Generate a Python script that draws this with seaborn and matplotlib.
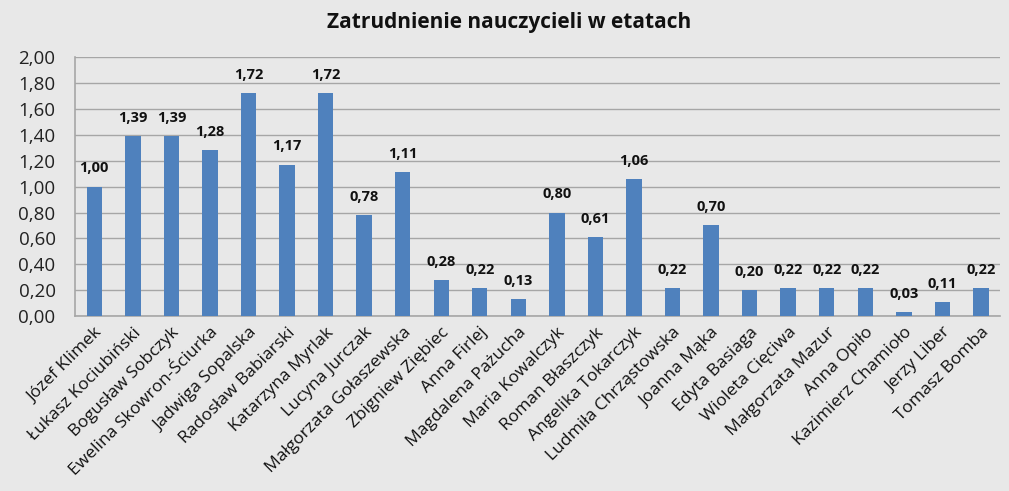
import matplotlib
matplotlib.use("Agg")
import matplotlib.pyplot as plt
import pandas as pd
import seaborn as sns

names = [
    "Józef Klimek", "Łukasz Kociubiński", "Bogusław Sobczyk",
    "Ewelina Skowron-Ściurka", "Jadwiga Sopalska", "Radosław Babiarski",
    "Katarzyna Myrlak", "Lucyna Jurczak", "Małgorzata Gołaszewska",
    "Zbigniew Ziębiec", "Anna Firlej", "Magdalena Pażucha",
    "Maria Kowalczyk", "Roman Błaszczyk", "Angelika Tokarczyk",
    "Ludmiła Chrząstowska", "Joanna Mąka", "Edyta Basiaga",
    "Wioleta Cięciwa", "Małgorzata Mazur", "Anna Opiło",
    "Kazimierz Chamioło", "Jerzy Liber", "Tomasz Bomba",
]
etaty = [
    1.00, 1.39, 1.39, 1.28, 1.72, 1.17, 1.72, 0.78, 1.11, 0.28, 0.22, 0.13,
    0.80, 0.61, 1.06, 0.22, 0.70, 0.20, 0.22, 0.22, 0.22, 0.03, 0.11, 0.22,
]
y_ticks = [0.0, 0.2, 0.4, 0.6, 0.8, 1.0, 1.2, 1.4, 1.6, 1.8, 2.0]

BG = "#e8e8e8"
BAR = "#4f81bd"


def fmt(v):
    return f"{v:.2f}".replace(".", ",")


def main():
    sns.set_style("white")
    plt.rcParams["font.family"] = ["Open Sans", "DejaVu Sans"]

    df = pd.DataFrame({"name": names, "value": etaty})

    fig = plt.figure(figsize=(10.09, 4.91), dpi=100, facecolor=BG)
    ax = fig.add_axes([0.0743, 0.356, 0.917, 0.528])
    ax.set_facecolor(BG)

    sns.barplot(data=df, x="name", y="value", color=BAR, width=0.4,
                saturation=1, linewidth=0, ax=ax, zorder=3)

    ax.set_ylim(0, 2.0)
    ax.set_xlim(-0.5, len(names) - 0.5)
    ax.set_yticks(y_ticks)
    ax.set_yticklabels([fmt(t) for t in y_ticks], fontsize=13.5, color="#222222")
    ax.yaxis.grid(True, color="#a6a6a6", linewidth=1, zorder=0)
    ax.set_axisbelow(True)
    ax.tick_params(axis="y", length=0, pad=14)

    ax.set_xticks(range(len(names)))
    ax.set_xticklabels(names, rotation=45, ha="right", rotation_mode="anchor",
                       fontsize=12.5, color="#111111")
    ax.tick_params(axis="x", length=0, pad=6)
    ax.set_xlabel("")
    ax.set_ylabel("")

    for side in ["top", "right"]:
        ax.spines[side].set_visible(False)
    for side in ["left", "bottom"]:
        ax.spines[side].set_color("#a6a6a6")
        ax.spines[side].set_linewidth(1.2)

    ax.bar_label(ax.containers[0], labels=[fmt(v) for v in etaty], padding=8,
                 fontsize=10.5, fontweight="bold", color="#111111")

    fig.suptitle("Zatrudnienie nauczycieli w etatach", x=0.505, y=0.975,
                 fontsize=15, fontweight="bold", color="#111111")

    fig.savefig("out.png", dpi=100, facecolor=BG)


if __name__ == "__main__":
    main()
